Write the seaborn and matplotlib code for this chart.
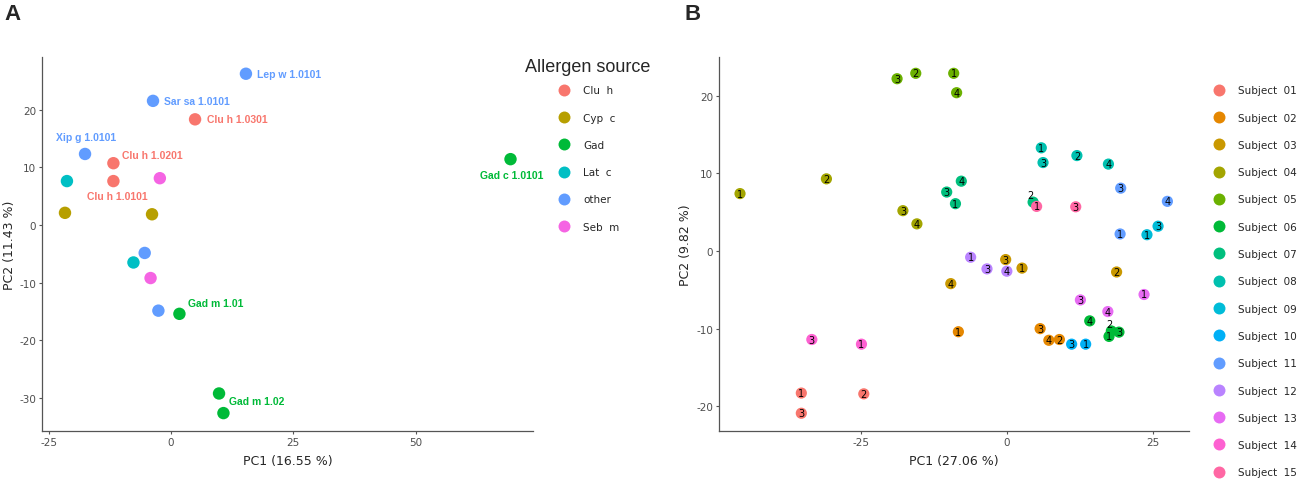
import matplotlib.pyplot as plt
import pandas as pd
import seaborn as sns
from matplotlib.lines import Line2D

# ---- Panel A data: allergen PCA ----
a_sources = ['Clu  h', 'Cyp  c', 'Gad', 'Lat  c', 'other', 'Seb  m']
a_colors = ['#F8766D', '#B79F00', '#00BA38', '#00BFC4', '#619CFF', '#F564E3']

a_source = ['other', 'other', 'Clu  h', 'other', 'Clu  h', 'Clu  h', 'Lat  c', 'Seb  m',
            'Cyp  c', 'Cyp  c', 'other', 'Lat  c', 'Seb  m', 'other', 'Gad', 'Gad', 'Gad', 'Gad']
a_pc1 = [15.3, -3.7, 4.9, -17.6, -11.8, -11.8, -21.3, -2.3,
         -21.7, -3.9, -5.4, -7.7, -4.2, -2.6, 1.7, 9.8, 10.7, 69.4]
a_pc2 = [26.2, 21.5, 18.3, 12.3, 10.7, 7.6, 7.6, 8.1,
         2.1, 1.85, -4.85, -6.5, -9.2, -14.85, -15.4, -29.2, -32.6, 11.4]
a_label = ['Lep w 1.0101', 'Sar sa 1.0101', 'Clu h 1.0301', 'Xip g 1.0101', 'Clu h 1.0201',
           'Clu h 1.0101', '', '', '', '', '', '', '', '', 'Gad m 1.01', '', 'Gad m 1.02',
           'Gad c 1.0101']

# label placement (offset in points, horizontal alignment) - like ggrepel output
a_label_pos = {
    'Lep w 1.0101': (8, 0, 'left'),
    'Sar sa 1.0101': (8, 0, 'left'),
    'Clu h 1.0301': (8.5, 0, 'left'),
    'Xip g 1.0101': (1, 12, 'center'),
    'Clu h 1.0201': (6.5, 6, 'left'),
    'Clu h 1.0101': (3, -10.5, 'center'),
    'Gad m 1.01': (6, 8, 'left'),
    'Gad m 1.02': (4, 9, 'left'),
    'Gad c 1.0101': (1, -11.5, 'center'),
}

# ---- Panel B data: subjects PCA ----
b_subjects = ['Subject  %02d' % i for i in range(1, 16)]
b_colors = ['#F8766D', '#E58700', '#C99800', '#A3A500', '#6BB100', '#00BA38', '#00BF7D',
            '#00C0AF', '#00BCD8', '#00B0F6', '#619CFF', '#B983FF', '#E76BF3', '#FD61D1',
            '#FF67A4']

b_subject = (['Subject  01'] * 3 + ['Subject  02'] * 4 + ['Subject  03'] * 4 +
             ['Subject  04'] * 4 + ['Subject  05'] * 4 + ['Subject  06'] * 4 +
             ['Subject  07'] * 4 + ['Subject  08'] * 4 + ['Subject  09'] * 2 +
             ['Subject  10'] * 2 + ['Subject  11'] * 3 + ['Subject  12'] * 3 +
             ['Subject  13'] * 3 + ['Subject  14'] * 2 + ['Subject  15'] * 2)
b_sample = ['1', '2', '3',
            '1', '2', '3', '4',
            '1', '2', '3', '4',
            '1', '2', '3', '4',
            '1', '2', '3', '4',
            '2', '1', '3', '4',
            '1', '2', '3', '4',
            '1', '2', '3', '4',
            '1', '3',
            '1', '3',
            '1', '3', '4',
            '1', '3', '4',
            '1', '3', '4',
            '1', '3',
            '1', '3']
b_pc1 = [-35.2, -24.5, -35.2,
         -8.3, 9.0, 5.7, 7.2,
         2.6, 18.8, -0.2, -9.6,
         -45.7, -30.9, -17.8, -15.4,
         -9.1, -15.6, -18.8, -8.6,
         17.9, 17.5, 19.2, 14.2,
         -8.8, 4.5, -10.3, -7.8,
         5.9, 12.0, 6.2, 17.4,
         24.0, 25.9,
         13.5, 11.1,
         19.4, 19.5, 27.5,
         -6.2, -3.4, 0.0,
         23.5, 12.6, 17.3,
         -24.9, -33.4,
         5.1, 11.8]
b_pc2 = [-18.3, -18.4, -20.9,
         -10.4, -11.4, -10.0, -11.5,
         -2.2, -2.7, -1.1, -4.2,
         7.4, 9.3, 5.2, 3.5,
         22.9, 22.9, 22.2, 20.4,
         -10.3, -11.0, -10.45, -9.0,
         6.1, 6.3, 7.6, 9.0,
         13.3, 12.3, 11.4, 11.2,
         2.1, 3.2,
         -12.0, -12.0,
         2.2, 8.1, 6.4,
         -0.8, -2.3, -2.6,
         -5.6, -6.3, -7.8,
         -12.0, -11.4,
         5.75, 5.7]

# repelled sample numbers (offset in points)
b_label_shift = {('Subject  07', '2'): (-1.7, 5), ('Subject  06', '2'): (-1.5, 5)}

df_a = pd.DataFrame({'pc1': a_pc1, 'pc2': a_pc2, 'source': a_source, 'label': a_label})
df_b = pd.DataFrame({'pc1': b_pc1, 'pc2': b_pc2, 'subject': b_subject, 'sample': b_sample})

sns.set_theme(style='white')
plt.rcParams['font.family'] = ['DejaVu Sans']
plt.rcParams['axes.unicode_minus'] = False

fig = plt.figure(figsize=(12.99, 4.81), dpi=100)
ax_a = fig.add_axes([42 / 1299, 1 - 431.7 / 481, 491 / 1299, 373.7 / 481])
ax_b = fig.add_axes([719 / 1299, 1 - 431.7 / 481, 470 / 1299, 373.7 / 481])

for ax in (ax_a, ax_b):
    for side in ('top', 'right'):
        ax.spines[side].set_visible(False)
    for side in ('left', 'bottom'):
        ax.spines[side].set_color('#555555')
        ax.spines[side].set_linewidth(0.9)
    ax.tick_params(bottom=True, left=True, length=2.5, width=0.8, color='#555555',
                   labelcolor='#4D4D4D', labelsize=7.5, pad=1.8)

# Panel A
sns.scatterplot(data=df_a, x='pc1', y='pc2', hue='source', hue_order=a_sources,
                palette=a_colors, s=80, edgecolor='none', alpha=1, legend=False, ax=ax_a)
a_col = dict(zip(a_sources, a_colors))
for _, r in df_a.iterrows():
    if r['label'] == '':
        continue
    dx, dy, ha = a_label_pos[r['label']]
    ax_a.annotate(r['label'], (r['pc1'], r['pc2']), xytext=(dx, dy), textcoords='offset points',
                  ha=ha, va='center', fontsize=7.5, fontweight='bold',
                  color=a_col[r['source']], family='Liberation Sans')

ax_a.set_xlim(-26.4, 74)
ax_a.set_ylim(-35.65, 29.1)
ax_a.set_xticks([-25, 0, 25, 50])
ax_a.set_yticks([-30, -20, -10, 0, 10, 20])
ax_a.set_xlabel('PC1 (16.55 %)', fontsize=9, labelpad=5)
ax_a.set_ylabel('PC2 (11.43 %)', fontsize=9, labelpad=2)

handles_a = [Line2D([], [], marker='o', ls='', markersize=8.6, color=c, mec='none')
             for c in a_colors]
ax_a.legend(handles_a, a_sources, frameon=False, loc='upper left',
            bbox_to_anchor=(559 / 1299, 1 - 86.3 / 481), bbox_transform=fig.transFigure,
            fontsize=7.5, handlelength=1.0, handletextpad=1.3, labelspacing=1.66,
            borderaxespad=0, borderpad=0)
fig.text(588 / 1299, 1 - 67.7 / 481, 'Allergen source', fontsize=13, ha='center',
         va='center', family='Liberation Sans')

# Panel B
sns.scatterplot(data=df_b, x='pc1', y='pc2', hue='subject', hue_order=b_subjects,
                palette=b_colors, s=65, edgecolor='none', alpha=1, legend=False, ax=ax_b)
for _, r in df_b.iterrows():
    dx, dy = b_label_shift.get((r['subject'], r['sample']), (0, 0))
    ax_b.annotate(r['sample'], (r['pc1'], r['pc2']), xytext=(dx, dy), textcoords='offset points',
                  ha='center', va='center', fontsize=7, color='black')

ax_b.set_xlim(-49.3, 31.2)
ax_b.set_ylim(-23.15, 25.0)
ax_b.set_xticks([-25, 0, 25])
ax_b.set_yticks([-20, -10, 0, 10, 20])
ax_b.set_xlabel('PC1 (27.06 %)', fontsize=9, labelpad=5)
ax_b.set_ylabel('PC2 (9.82 %)', fontsize=9, labelpad=3)

handles_b = [Line2D([], [], marker='o', ls='', markersize=8.6, color=c, mec='none')
             for c in b_colors]
ax_b.legend(handles_b, b_subjects, frameon=False, loc='upper left',
            bbox_to_anchor=(1214 / 1299, 1 - 86.3 / 481), bbox_transform=fig.transFigure,
            fontsize=7.5, handlelength=1.0, handletextpad=1.3, labelspacing=1.66,
            borderaxespad=0, borderpad=0)

fig.text(4 / 1299, 1 - 4 / 481, 'A', fontsize=16, fontweight='bold', va='top', ha='left',
         family='Liberation Sans')
fig.text(684 / 1299, 1 - 4 / 481, 'B', fontsize=16, fontweight='bold', va='top', ha='left',
         family='Liberation Sans')

fig.savefig('out.png', dpi=100)
